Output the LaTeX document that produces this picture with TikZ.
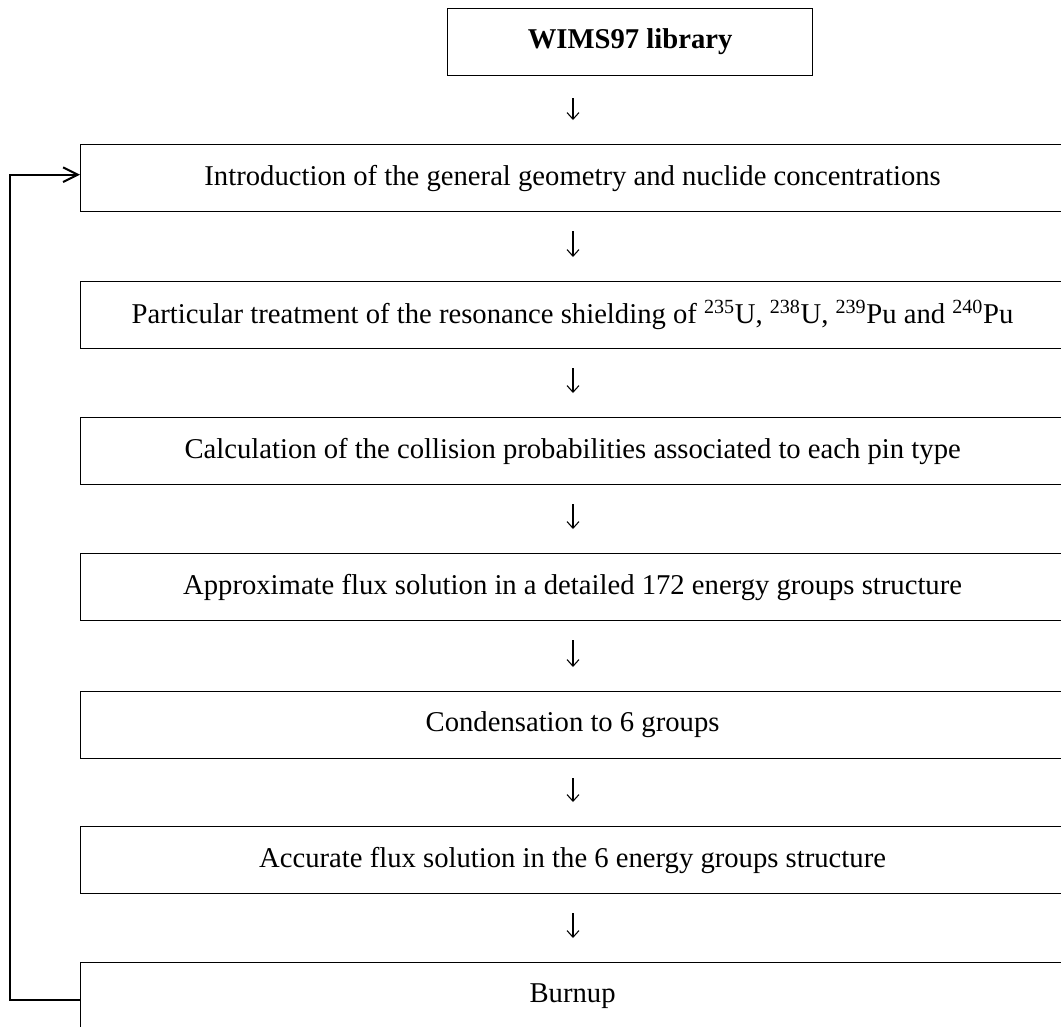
\documentclass[tikz,border=0pt]{standalone}
\usepackage{fontspec}
\setmainfont{Liberation Serif}
\usetikzlibrary{arrows.meta}
\begin{document}
\begin{tikzpicture}[x=0.75pt,y=-0.75pt,
  stepbox/.style={draw, line width=0.9pt, minimum width=738pt, minimum height=50.25pt,
    inner sep=0pt, font=\fontsize{21.5}{25}\selectfont, anchor=north west},
  topbox/.style={draw, line width=0.9pt, minimum width=273.75pt, minimum height=50.25pt,
    inner sep=0pt, font=\fontsize{21.5}{25}\selectfont\bfseries, anchor=north west},
  flow/.style={line width=0.8pt, -{Straight Barb[length=5pt,width=9pt]},
    shorten <=14.25pt, shorten >=18pt},
  ret/.style={line width=1.5pt, -{Straight Barb[length=11pt,width=11pt]}}]
\useasboundingbox (0,0) rectangle (1061,1026);
\node[topbox] (w) at (447,8) {WIMS97 library};
\node[stepbox] (b1) at (80,144) {Introduction of the general geometry and nuclide concentrations};
\node[stepbox] (b2) at (80,281) {Particular treatment of the resonance shielding of \textsuperscript{235}U, \textsuperscript{238}U, \textsuperscript{239}Pu and \textsuperscript{240}Pu};
\node[stepbox] (b3) at (80,417) {Calculation of the collision probabilities associated to each pin type};
\node[stepbox] (b4) at (80,553) {Approximate flux solution in a detailed 172 energy groups structure};
\node[stepbox] (b5) at (80,691) {Condensation to 6 groups};
\node[stepbox] (b6) at (80,826) {Accurate flux solution in the 6 energy groups structure};
\node[stepbox] (b7) at (80,962) {Burnup};
\coordinate (ax) at (573,0);
\draw[flow, shorten <=16.5pt] (w.south -| ax) -- (b1.north -| ax);
\draw[flow] (b1.south -| ax) -- (b2.north -| ax);
\draw[flow] (b2.south -| ax) -- (b3.north -| ax);
\draw[flow] (b3.south -| ax) -- (b4.north -| ax);
\draw[flow] (b4.south -| ax) -- (b5.north -| ax);
\draw[flow] (b5.south -| ax) -- (b6.north -| ax);
\draw[flow] (b6.south -| ax) -- (b7.north -| ax);
\coordinate (rl) at (10,0);
\coordinate (p7) at ([yshift=-3pt]b7.west);
\coordinate (p1) at ([yshift=2.6pt]b1.west);
\draw[ret] (p7) -- (p7 -| rl) |- (p1);
\end{tikzpicture}
\end{document}
